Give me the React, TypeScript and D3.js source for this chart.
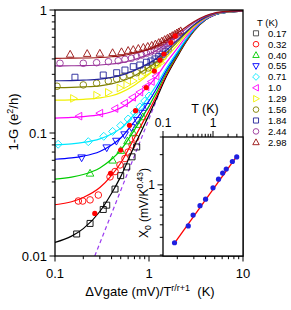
import React from "react";
import * as d3 from "d3";

// ---------------- data ----------------
const T_LABELS = ["0.17", "0.32", "0.40", "0.55", "0.71", "1.0", "1.29", "1.56", "1.84", "2.44", "2.98"];
const T_VALUES = [0.17, 0.32, 0.4, 0.55, 0.71, 1.0, 1.29, 1.56, 1.84, 2.44, 2.98];

const LINE_X = [0.1, 0.15, 0.2, 0.3, 0.4, 0.5, 0.7, 1, 1.2, 1.5, 2, 2.5, 3, 4, 5, 7, 10];
const line017 = [0.0129, 0.0145, 0.0167, 0.023, 0.0324, 0.0442, 0.0788, 0.14, 0.19, 0.279, 0.417, 0.555, 0.674, 0.832, 0.911, 0.96, 0.98];
const line032 = [0.0261, 0.0276, 0.0299, 0.036, 0.0453, 0.057, 0.0911, 0.152, 0.2, 0.288, 0.425, 0.561, 0.678, 0.834, 0.912, 0.961, 0.98];
const line040 = [0.0422, 0.0438, 0.046, 0.052, 0.0611, 0.0726, 0.106, 0.166, 0.214, 0.3, 0.434, 0.568, 0.684, 0.837, 0.914, 0.962, 0.981];
const line055 = [0.0612, 0.0627, 0.0649, 0.0708, 0.0797, 0.091, 0.124, 0.182, 0.229, 0.314, 0.445, 0.577, 0.69, 0.84, 0.915, 0.962, 0.981];
const line071 = [0.0802, 0.0817, 0.0838, 0.0896, 0.0983, 0.109, 0.142, 0.199, 0.245, 0.328, 0.457, 0.586, 0.696, 0.843, 0.917, 0.963, 0.982];
const line100 = [0.132, 0.134, 0.136, 0.141, 0.149, 0.16, 0.19, 0.244, 0.287, 0.366, 0.487, 0.609, 0.713, 0.852, 0.922, 0.965, 0.983];
const line129 = [0.185, 0.186, 0.188, 0.193, 0.201, 0.213, 0.245, 0.3, 0.338, 0.404, 0.519, 0.633, 0.731, 0.861, 0.927, 0.967, 0.984];
const line156 = [0.234, 0.235, 0.237, 0.242, 0.251, 0.262, 0.292, 0.342, 0.378, 0.44, 0.548, 0.655, 0.747, 0.87, 0.931, 0.969, 0.985];
const line184 = [0.266, 0.267, 0.269, 0.274, 0.283, 0.294, 0.323, 0.37, 0.404, 0.464, 0.566, 0.669, 0.757, 0.875, 0.934, 0.971, 0.985];
const line244 = [0.351, 0.352, 0.353, 0.357, 0.364, 0.372, 0.396, 0.438, 0.469, 0.526, 0.617, 0.708, 0.786, 0.89, 0.942, 0.974, 0.987];
const line298 = [0.405, 0.406, 0.407, 0.411, 0.417, 0.424, 0.445, 0.481, 0.511, 0.565, 0.648, 0.732, 0.803, 0.899, 0.946, 0.976, 0.988];

const mx017 = [0.17, 0.236, 0.326, 0.355, 0.435, 0.5, 0.58, 0.66, 0.74];
const my017 = [0.0151, 0.0184, 0.0239, 0.0259, 0.035, 0.045, 0.053, 0.064, 0.077];
const mx032 = [0.177, 0.197, 0.236, 0.289, 0.385, 0.435, 0.491, 0.555, 0.6, 0.66, 0.72];
const my032 = [0.028, 0.028, 0.0286, 0.0313, 0.044, 0.0486, 0.055, 0.062, 0.07, 0.08, 0.091];
const mx040 = [0.236, 0.41, 0.5, 0.59, 0.68, 0.77, 0.86];
const my040 = [0.047, 0.06, 0.072, 0.086, 0.1, 0.117, 0.135];
const mx055 = [0.192, 0.355, 0.45, 0.55, 0.65, 0.75, 0.85, 0.95];
const my055 = [0.063, 0.076, 0.086, 0.097, 0.111, 0.127, 0.145, 0.165];
const mx071 = [0.108, 0.226, 0.33, 0.41, 0.5, 0.6, 0.7, 0.8, 0.9, 1.0];
const my071 = [0.081, 0.085, 0.094, 0.103, 0.115, 0.13, 0.146, 0.163, 0.182, 0.2];
const mx100 = [0.18, 0.3, 0.435, 0.55, 0.67, 0.8, 0.93, 1.06, 1.19];
const my100 = [0.137, 0.145, 0.158, 0.175, 0.195, 0.215, 0.238, 0.262, 0.29];
const mx129 = [0.157, 0.277, 0.369, 0.491, 0.58, 0.68, 0.835, 0.98, 1.1, 1.22, 1.34];
const my129 = [0.191, 0.203, 0.214, 0.232, 0.247, 0.265, 0.29, 0.315, 0.333, 0.352, 0.372];
const mx156 = [0.105, 0.2, 0.277, 0.369, 0.453, 0.533, 0.627, 0.74, 0.87, 0.98, 1.09, 1.2, 1.31, 1.42];
const my156 = [0.24, 0.246, 0.254, 0.265, 0.275, 0.287, 0.296, 0.309, 0.325, 0.338, 0.355, 0.374, 0.396, 0.42];
const mx184 = [0.163, 0.326, 0.453, 0.555, 0.68, 0.8, 0.94, 1.05, 1.16, 1.27, 1.38, 1.49, 1.6];
const my184 = [0.284, 0.296, 0.309, 0.325, 0.346, 0.357, 0.376, 0.385, 0.4, 0.418, 0.437, 0.462, 0.482];
const mx244 = [0.113, 0.2, 0.277, 0.37, 0.47, 0.555, 0.65, 0.74, 0.835, 0.94, 1.04, 1.14, 1.24, 1.34, 1.44, 1.54, 1.64, 1.74, 1.84];
const my244 = [0.369, 0.369, 0.373, 0.38, 0.387, 0.397, 0.405, 0.417, 0.43, 0.444, 0.457, 0.469, 0.483, 0.5, 0.516, 0.533, 0.549, 0.565, 0.58];
const mx298 = [0.145, 0.22, 0.3, 0.41, 0.51, 0.6, 0.68, 0.77, 0.87, 0.97, 1.07, 1.17, 1.27, 1.37, 1.47, 1.57, 1.67, 1.77, 1.87, 1.97, 2.07, 2.17];
const my298 = [0.436, 0.442, 0.444, 0.449, 0.457, 0.468, 0.476, 0.486, 0.496, 0.505, 0.515, 0.528, 0.543, 0.558, 0.574, 0.588, 0.603, 0.618, 0.632, 0.648, 0.662, 0.676];

// crossover points X0 (also plotted in the inset)
const X0_VALUES = [0.265, 0.39, 0.5, 0.62, 0.72, 0.935, 1.14, 1.31, 1.44, 1.71, 1.9];
const X0_CURVE_Y = [0.0222, 0.047, 0.0727, 0.1155, 0.152, 0.234, 0.319, 0.392, 0.439, 0.542, 0.615];

const FIT_T = [0.17, 3.0];
const FIT_X0 = [0.262, 1.93];

const DASH_X = [0.265, 1.25];
const DASH_Y = [0.01, 0.2];

const X_TICKS = [0.1, 1, 10];
const X_TICK_LABELS = ["0.1", "1", "10"];
const Y_TICKS = [0.01, 0.1, 1];
const Y_TICK_LABELS = ["0.01", "0.1", "1"];
const INSET_X_TICKS = [0.1, 1];
const INSET_X_TICK_LABELS = ["0.1", "1"];
const INSET_Y_TICKS = [1];
const INSET_Y_TICK_LABELS = ["1"];

const LINES = [line017, line032, line040, line055, line071, line100, line129, line156, line184, line244, line298];
const MX = [mx017, mx032, mx040, mx055, mx071, mx100, mx129, mx156, mx184, mx244, mx298];
const MY = [my017, my032, my040, my055, my071, my100, my129, my156, my184, my244, my298];

const COLORS = ["#000000", "#ff0000", "#00cc00", "#0000ff", "#00e8ff", "#ff00ff", "#f0f000", "#808000", "#22229a", "#993399", "#991111"];
const SYMBOLS = ["square", "circle", "triangle", "triangleDown", "diamond", "triangleLeft", "triangleRight", "circle", "square", "circle", "triangle"];

const FONT = "'Liberation Sans', Arial, Helvetica, sans-serif";

function symbolPath(type: string, k = 1): string {
  const s = k;
  switch (type) {
    case "square":
      return `M${-3 * s},${-3 * s}h${6 * s}v${6 * s}h${-6 * s}Z`;
    case "circle": {
      const r = 3.3 * s;
      return `M${-r},0a${r},${r} 0 1,0 ${2 * r},0a${r},${r} 0 1,0 ${-2 * r},0Z`;
    }
    case "triangle":
      return `M0,${-4 * s}L${3.8 * s},${2.8 * s}L${-3.8 * s},${2.8 * s}Z`;
    case "triangleDown":
      return `M0,${4 * s}L${3.8 * s},${-2.8 * s}L${-3.8 * s},${-2.8 * s}Z`;
    case "diamond":
      return `M0,${-4 * s}L${4 * s},0L0,${4 * s}L${-4 * s},0Z`;
    case "triangleLeft":
      return `M${-4 * s},0L${2.8 * s},${-3.8 * s}L${2.8 * s},${3.8 * s}Z`;
    case "triangleRight":
      return `M${4 * s},0L${-2.8 * s},${-3.8 * s}L${-2.8 * s},${3.8 * s}Z`;
    default:
      return "";
  }
}

function logTicks(lo: number, hi: number): number[] {
  const out: number[] = [];
  for (let e = -3; e <= 2; e++) {
    for (let m = 1; m <= 9; m++) {
      const v = m * Math.pow(10, e);
      if (v >= lo * 0.9999 && v <= hi * 1.0001) out.push(v);
    }
  }
  return out;
}
const isMajor = (v: number) => Math.abs(Math.log10(v) - Math.round(Math.log10(v))) < 1e-6;

export default function App() {
  const W = 291;
  const H = 310;
  const L = 55, R = 243, T = 10, B = 256;
  const x = d3.scaleLog().domain([0.1, 10]).range([L, R]);
  const y = d3.scaleLog().domain([0.01, 1]).range([B, T]);

  const IL = 163, IR = 243, IT = 137, IB = 256;
  const ix = d3.scaleLog().domain([0.1, Math.pow(10, 0.6)]).range([IL, IR]);
  const iy = d3.scaleLog().domain([0.2, 3.0]).range([255, IT]);

  const lineGen = d3
    .line<[number, number]>()
    .x((d) => x(d[0]))
    .y((d) => y(d[1]))
    .curve(d3.curveMonotoneX);

  const mainXTicks = logTicks(0.1, 10);
  const mainYTicks = logTicks(0.01, 1);
  const insetXTicks = logTicks(0.1, Math.pow(10, 0.6));
  const insetYTicks = logTicks(0.2, 3.0);

  return (
    <div style={{ position: "fixed", left: 0, top: 0, width: W, height: H, background: "#fff" }}>
      <svg width={W} height={H} style={{ display: "block" }} fontFamily={FONT}>
        <rect x={0} y={0} width={W} height={H} fill="#fff" />
        <defs>
          <clipPath id="plotClip">
            <rect x={L} y={T} width={R - L} height={B - T} />
          </clipPath>
        </defs>

        <g clipPath="url(#plotClip)">
          {/* dashed reference line */}
          <line
            x1={x(DASH_X[0])}
            y1={y(DASH_Y[0])}
            x2={x(DASH_X[1])}
            y2={y(DASH_Y[1])}
            stroke="#9b3cf0"
            strokeWidth={1.2}
            strokeDasharray="4,3"
          />
          {/* markers */}
          {MX.map((xs, i) => (
            <g key={"m" + i} stroke={COLORS[i]} fill="none" strokeWidth={0.9}>
              {xs.map((xv, j) => (
                <path key={j} d={symbolPath(SYMBOLS[i])} transform={`translate(${x(xv)},${y(MY[i][j])})`} />
              ))}
            </g>
          ))}
          {/* fit lines */}
          {LINES.map((ys, i) => (
            <path
              key={"l" + i}
              d={lineGen(LINE_X.map((xv, j) => [xv, ys[j]] as [number, number])) || ""}
              fill="none"
              stroke={COLORS[i]}
              strokeWidth={1.2}
            />
          ))}
          {/* crossover points */}
          {X0_VALUES.map((xv, i) => (
            <circle key={"r" + i} cx={x(xv)} cy={y(X0_CURVE_Y[i])} r={2.6} fill="#ff0000" />
          ))}
        </g>

        {/* main frame */}
        <rect x={L} y={T} width={R - L} height={B - T} fill="none" stroke="#000" strokeWidth={1.3} />

        {/* main x ticks */}
        {mainXTicks.map((v, i) => (
          <line key={"xt" + i} x1={x(v)} x2={x(v)} y1={B} y2={B + (isMajor(v) ? 5.5 : 3.2)} stroke="#000" strokeWidth={1} />
        ))}
        {X_TICKS.map((v, i) => (
          <text key={"xl" + i} x={x(v)} y={278} fontSize={13} textAnchor="middle" fill="#000">
            {X_TICK_LABELS[i]}
          </text>
        ))}
        {/* main y ticks */}
        {mainYTicks.map((v, i) => (
          <line key={"yt" + i} x1={L - (isMajor(v) ? 5.5 : 3.2)} x2={L} y1={y(v)} y2={y(v)} stroke="#000" strokeWidth={1} />
        ))}
        {Y_TICKS.map((v, i) => (
          <text key={"yl" + i} x={47} y={y(v) + 4.6} fontSize={13} textAnchor="end" fill="#000">
            {Y_TICK_LABELS[i]}
          </text>
        ))}

        {/* axis titles */}
        <text x={150} y={296} fontSize={13} textAnchor="middle" fill="#000">
          <tspan>ΔVgate (mV)/T</tspan>
          <tspan fontSize={9} dy={-5}>r/r+1</tspan>
          <tspan dy={5}>{"\u00a0\u00a0(K)"}</tspan>
        </text>
        <text transform="translate(18,122) rotate(-90)" fontSize={13} textAnchor="middle" fill="#000">
          <tspan>1-G (e</tspan>
          <tspan fontSize={9} dy={-5}>2</tspan>
          <tspan dy={5}>/h)</tspan>
        </text>

        {/* legend */}
        <text x={257} y={26} fontSize={9.5} fill="#000">T (K)</text>
        {T_LABELS.map((lab, i) => {
          const ly = 33.3 + i * 10.9;
          return (
            <g key={"lg" + i}>
              <path
                d={symbolPath(SYMBOLS[i], 0.85)}
                transform={`translate(256,${ly})`}
                fill="none"
                stroke={i === 0 ? "#444" : COLORS[i]}
                strokeWidth={0.9}
              />
              <text x={268} y={ly + 3.4} fontSize={9.5} fill="#000">
                {lab}
              </text>
            </g>
          );
        })}

        {/* inset */}
        <rect x={IL} y={IT} width={IR - IL} height={IB - IT} fill="#fff" stroke="#000" strokeWidth={1.3} />
        {insetXTicks.map((v, i) => (
          <line key={"ixt" + i} x1={ix(v)} x2={ix(v)} y1={IT} y2={IT - (isMajor(v) ? 6 : 3.2)} stroke="#000" strokeWidth={1} />
        ))}
        {INSET_X_TICKS.map((v, i) => (
          <text key={"ixl" + i} x={ix(v)} y={127} fontSize={12} textAnchor="middle" fill="#000">
            {INSET_X_TICK_LABELS[i]}
          </text>
        ))}
        <text x={205} y={113} fontSize={12.5} textAnchor="middle" fill="#000">T (K)</text>
        {insetYTicks.map((v, i) => (
          <line key={"iyt" + i} x1={IL - (isMajor(v) ? 5.5 : 3.2)} x2={IL} y1={iy(v)} y2={iy(v)} stroke="#000" strokeWidth={1} />
        ))}
        {INSET_Y_TICKS.map((v, i) => (
          <text key={"iyl" + i} x={155} y={iy(v) + 4.3} fontSize={12} textAnchor="end" fill="#000">
            {INSET_Y_TICK_LABELS[i]}
          </text>
        ))}
        <text transform="translate(148,203) rotate(-90)" fontSize={12} textAnchor="middle" fill="#000">
          <tspan>X</tspan>
          <tspan fontSize={8.5} dy={3}>0</tspan>
          <tspan dy={-3}> (mV/K</tspan>
          <tspan fontSize={8.5} dy={-5}>0.43</tspan>
          <tspan dy={5}>)</tspan>
        </text>
        <line x1={ix(FIT_T[0])} y1={iy(FIT_X0[0])} x2={ix(FIT_T[1])} y2={iy(FIT_X0[1])} stroke="#ff0000" strokeWidth={1.3} />
        {T_VALUES.map((t, i) => (
          <circle key={"ip" + i} cx={ix(t)} cy={iy(X0_VALUES[i])} r={2.6} fill="#1f1fe0" />
        ))}
      </svg>
    </div>
  );
}
